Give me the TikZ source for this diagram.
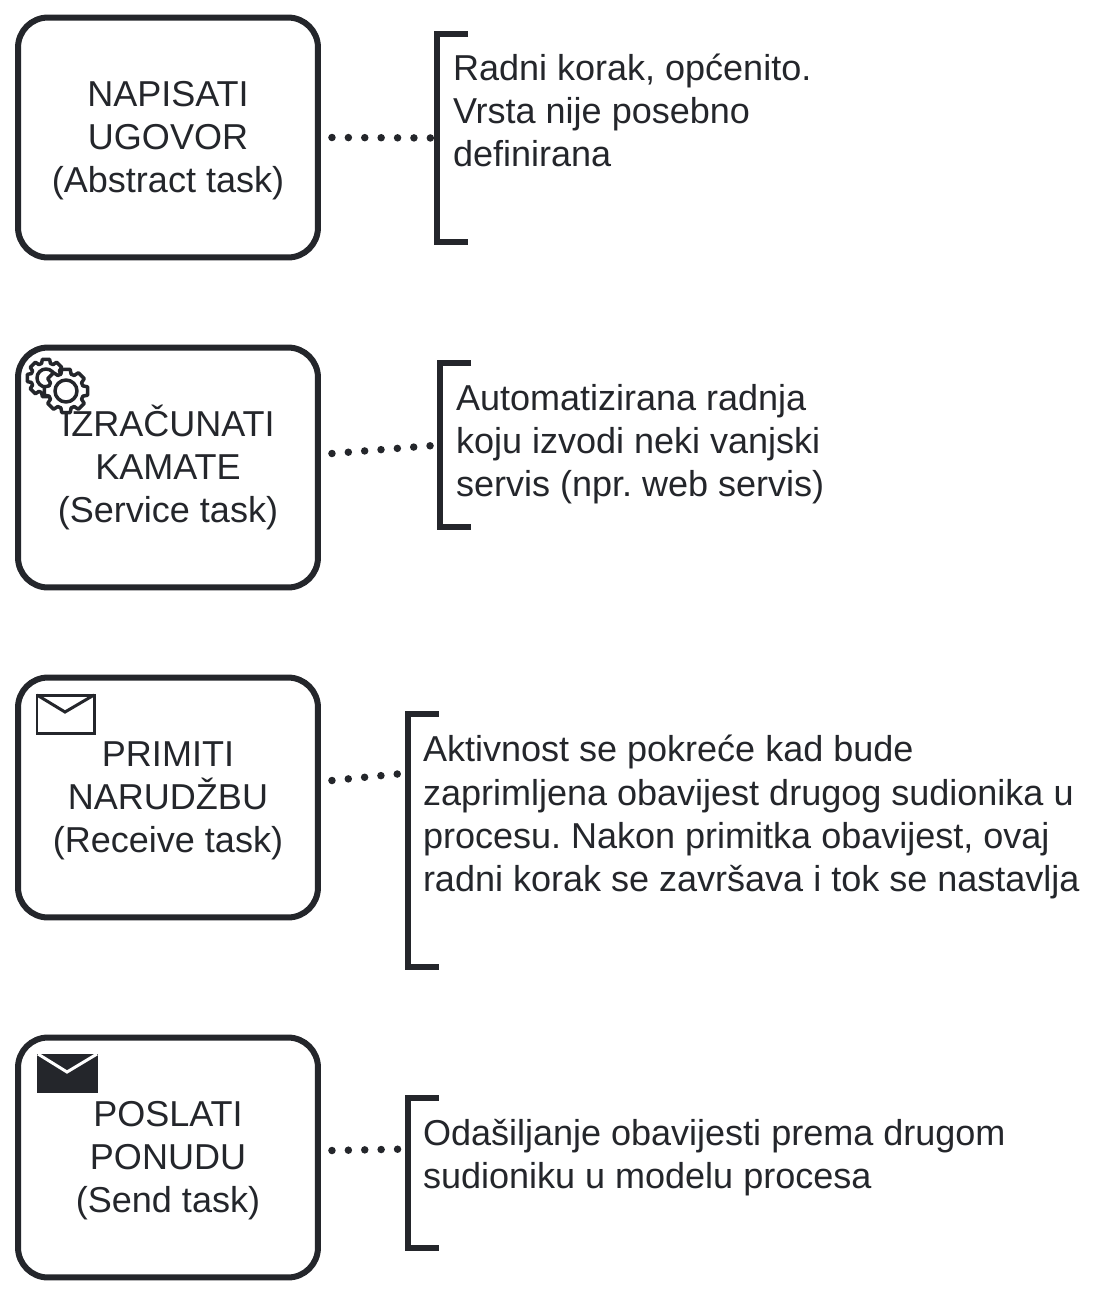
\documentclass[tikz,border=0pt]{standalone}
\usepackage{fontspec}
\setmainfont{Liberation Sans}
\usetikzlibrary{calc}
\definecolor{inkdark}{HTML}{24262B}
\tikzset{
  task/.style={draw=inkdark,line width=0.12cm,rounded corners=0.6cm,fill=white,minimum width=6cm,minimum height=4.8cm,inner sep=0pt,outer sep=0pt,align=center,text=inkdark},
  bracketbox/.style={minimum width=0.62cm,inner sep=0pt,outer sep=0pt},
  bracketline/.style={draw=inkdark,line width=0.12cm,line join=miter},
  assoc/.style={draw=inkdark,line width=0.15cm,line cap=round,dash pattern=on 0pt off 0.328cm},
  notetext/.style={anchor=west,align=left,inner sep=0pt,outer sep=0pt,text=inkdark},
  icon/.style={draw=inkdark,fill=white,line width=0.07cm,line join=round}
}
\newcommand{\gearshape}[3]{%
  \draw[icon] ($(#1)+(-11:#2)$)
    \foreach \a in {0,45,...,315} {
      -- ($(#1)+(\a-11:#2)$) -- ($(#1)+(\a+11:#2)$) -- ($(#1)+(\a+17:#2*0.8)$) -- ($(#1)+(\a+28:#2*0.8)$)
    } -- cycle;
  \draw[icon] (#1) circle (#3);
}

\begin{document}
\begin{tikzpicture}[x=0.02cm,y=-0.02cm,font=\fontsize{20.5}{24.5}\selectfont\frenchspacing]
  \useasboundingbox (0,0) rectangle (1116,1296);

  % zadaci
  \node[task] (taskA) at (168,137.5) {\vphantom{Č}NAPISATI\\UGOVOR\\(Abstract task)};
  \node[task] (taskB) at (168,467.5) {IZRAČUNATI\\KAMATE\\(Service task)};
  \node[task] (taskC) at (168,797.5) {\vphantom{Č}PRIMITI\\NARUDŽBU\\(Receive task)};
  \node[task] (taskD) at (168,1157.5) {\vphantom{Č}POSLATI\\PONUDU\\(Send task)};

  % zagrade
  \node[bracketbox,minimum height=4.18cm] (noteA) at (452.5,138) {};
  \node[bracketbox,minimum height=3.3cm] (noteB) at (455.5,445) {};
  \node[bracketbox,minimum height=5.06cm] (noteC) at (423,840.5) {};
  \node[bracketbox,minimum height=3cm] (noteD) at (423,1173) {};
  \draw[bracketline] (noteA.north east) -- (noteA.north west) -- (noteA.south west) -- (noteA.south east);
  \draw[bracketline] (noteB.north east) -- (noteB.north west) -- (noteB.south west) -- (noteB.south east);
  \draw[bracketline] (noteC.north east) -- (noteC.north west) -- (noteC.south west) -- (noteC.south east);
  \draw[bracketline] (noteD.north east) -- (noteD.north west) -- (noteD.south west) -- (noteD.south east);

  % tekstovi
  \node[notetext] (textA) at (453,110) {Radni korak, općenito.\\Vrsta nije posebno\\definirana};
  \node[notetext] (textB) at (456,444) {Automatizirana radnja\\koju izvodi neki vanjski\\servis (npr. web servis)};
  \node[notetext] (textC) at (423,817) {Aktivnost se pokreće kad bude\\zaprimljena obavijest drugog sudionika u\\procesu. Nakon primitka obavijest, ovaj\\radni korak se završava i tok se nastavlja};
  \node[notetext] (textD) at (423,1157.5) {Odašiljanje obavijesti prema drugom\\sudioniku u modelu procesa};

  % veze
  \draw[assoc] ([shift={(14,0)}]taskA.east) -- (noteA.west);
  \draw[assoc] ([shift={(14,-14)}]taskB.east) -- (noteB.west);
  \draw[assoc] ([shift={(14,-17)}]taskC.east) -- ([shift={(0,-67.5)}]noteC.west);
  \draw[assoc] ([shift={(14,-7)}]taskD.east) -- ([shift={(0,-24)}]noteD.west);

  % ikone
  \gearshape{46,378}{19}{9}
  \gearshape{66,391}{22}{11}
  \draw[icon,line width=0.06cm,line join=miter] (37,695) rectangle (94,733);
  \draw[icon,line width=0.06cm,line join=miter,fill=none] (37,695) -- (65,712) -- (94,695);
  \fill[inkdark] (37,1054) rectangle (98,1093);
  \draw[white,line width=0.06cm] (38,1054) -- (67,1072) -- (97,1054);
\end{tikzpicture}
\end{document}
